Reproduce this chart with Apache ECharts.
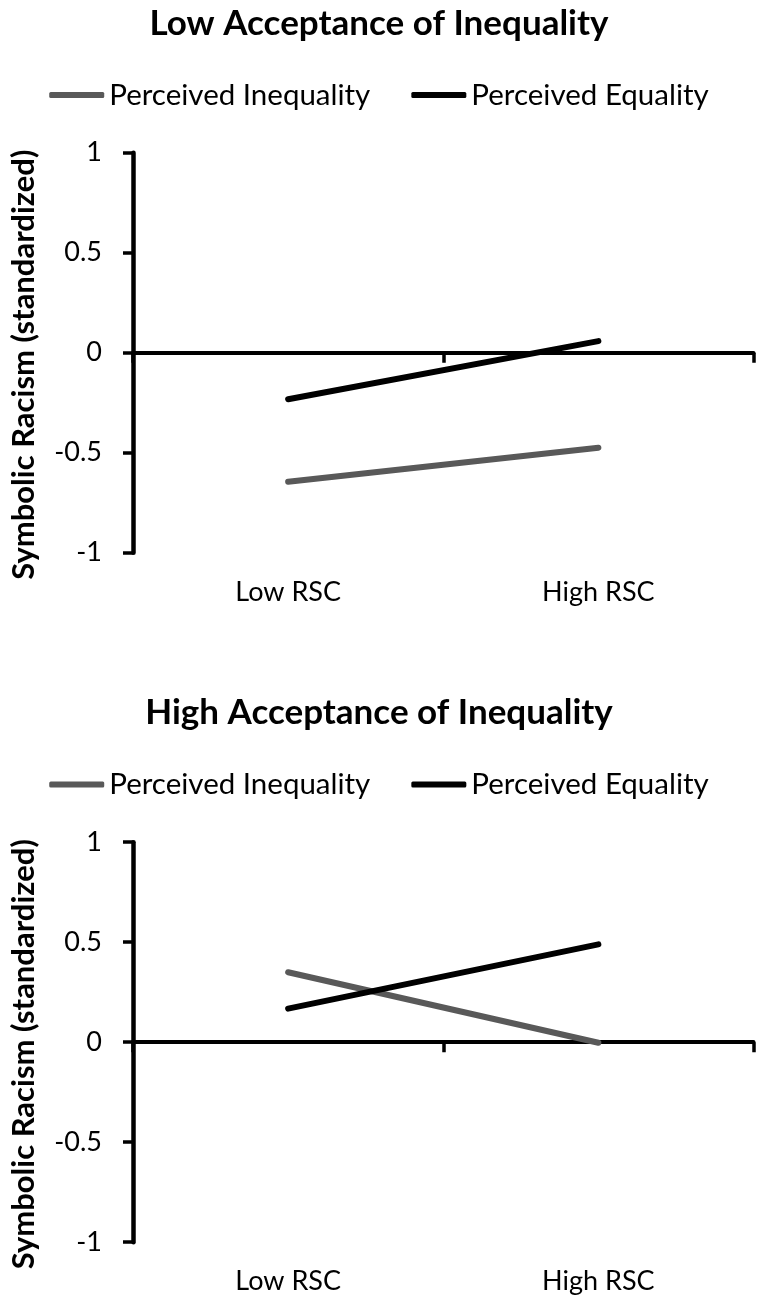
<!DOCTYPE html>
<html>
<head>
<meta charset="utf-8">
<title>Symbolic Racism by RSC</title>
<script src="https://cdn.jsdelivr.net/npm/echarts@6/dist/echarts.min.js"></script>
<style>
  html, body { margin: 0; padding: 0; background: #fff; }
  #chart { width: 758px; height: 1303px; }
</style>
</head>
<body>
<div id="chart"></div>
<script>
// Categories on the x axis
const categories = ['Low RSC', 'High RSC'];
// Series names
const seriesNames = ['Perceived Inequality', 'Perceived Equality'];
// Panel titles
const panelTitles = ['Low Acceptance of Inequality', 'High Acceptance of Inequality'];
// Symbolic racism (standardized), low acceptance of inequality
const lowAcceptInequality = [-0.645, -0.475];
const lowAcceptEquality = [-0.233, 0.058];
// Symbolic racism (standardized), high acceptance of inequality
const highAcceptInequality = [0.35, -0.003];
const highAcceptEquality = [0.168, 0.489];
// Y axis range and step
const yMin = -1, yMax = 1, yStep = 0.5;
const yAxisTitle = 'Symbolic Racism (standardized)';

const panelData = [
  [lowAcceptInequality, lowAcceptEquality],
  [highAcceptInequality, highAcceptEquality]
];
const seriesColors = ['#595959', '#000000'];
const FONT = 'Lato';
const panelShift = 689.5;

const option = {
  animation: false,
  backgroundColor: '#ffffff',
  textStyle: { fontFamily: FONT, color: '#000' },
  title: [],
  legend: [],
  grid: [],
  xAxis: [],
  yAxis: [],
  series: []
};

panelTitles.forEach((t, p) => {
  const off = p * panelShift;
  option.title.push({
    text: t,
    left: 'center',
    top: 1 + off,
    textStyle: { fontFamily: FONT, fontSize: 35, fontWeight: 'bold', color: '#000' }
  });
  option.legend.push({
    data: seriesNames.map((n, i) => ({ name: n, itemStyle: { color: seriesColors[i] } })),
    left: 'center',
    top: 75 + off,
    icon: 'roundRect',
    itemWidth: 55,
    itemHeight: 6,
    itemGap: 41,
    selectedMode: false,
    textStyle: { fontFamily: FONT, fontSize: 29.5, color: '#000' }
  });
  option.grid.push({ left: 132, right: 4.5, top: 152.7 + off, height: 400, containLabel: false });

  // axis line drawn through zero, with ticks between categories
  option.xAxis.push({
    type: 'category',
    gridIndex: p,
    data: categories,
    boundaryGap: true,
    axisLine: { show: true, onZero: true, lineStyle: { color: '#000', width: 4 } },
    axisTick: { show: true, length: 10, lineStyle: { color: '#000', width: 3.5 } },
    axisLabel: { show: false },
    splitLine: { show: false }
  });
  // category labels along the bottom of the plot
  option.xAxis.push({
    type: 'category',
    gridIndex: p,
    data: categories,
    position: 'bottom',
    boundaryGap: true,
    axisLine: { show: false, onZero: false },
    axisTick: { show: false },
    axisLabel: { show: true, margin: 26, fontFamily: FONT, fontSize: 27, color: '#000' },
    splitLine: { show: false }
  });
  option.yAxis.push({
    type: 'value',
    gridIndex: p,
    min: yMin,
    max: yMax,
    interval: yStep,
    name: yAxisTitle,
    nameLocation: 'middle',
    nameGap: 94,
    nameTextStyle: { fontFamily: FONT, fontSize: 31, fontWeight: 'bold', color: '#000', padding: [0, 24, 0, 0] },
    axisLine: { show: true, lineStyle: { color: '#000', width: 4.5 } },
    axisTick: { show: true, length: 10, lineStyle: { color: '#000', width: 3.5 } },
    axisLabel: { margin: 31, fontFamily: FONT, fontSize: 27, color: '#000' },
    splitLine: { show: false }
  });

  panelData[p].forEach((vals, i) => {
    option.series.push({
      name: seriesNames[i],
      type: 'line',
      xAxisIndex: p * 2,
      yAxisIndex: p,
      data: vals,
      symbol: 'none',
      showSymbol: false,
      color: seriesColors[i],
      lineStyle: { color: seriesColors[i], width: 6, cap: 'round' },
      emphasis: { disabled: true },
      z: 3
    });
  });
});

const chart = echarts.init(document.getElementById('chart'), null, { renderer: 'canvas' });
chart.setOption(option);
</script>
</body>
</html>
